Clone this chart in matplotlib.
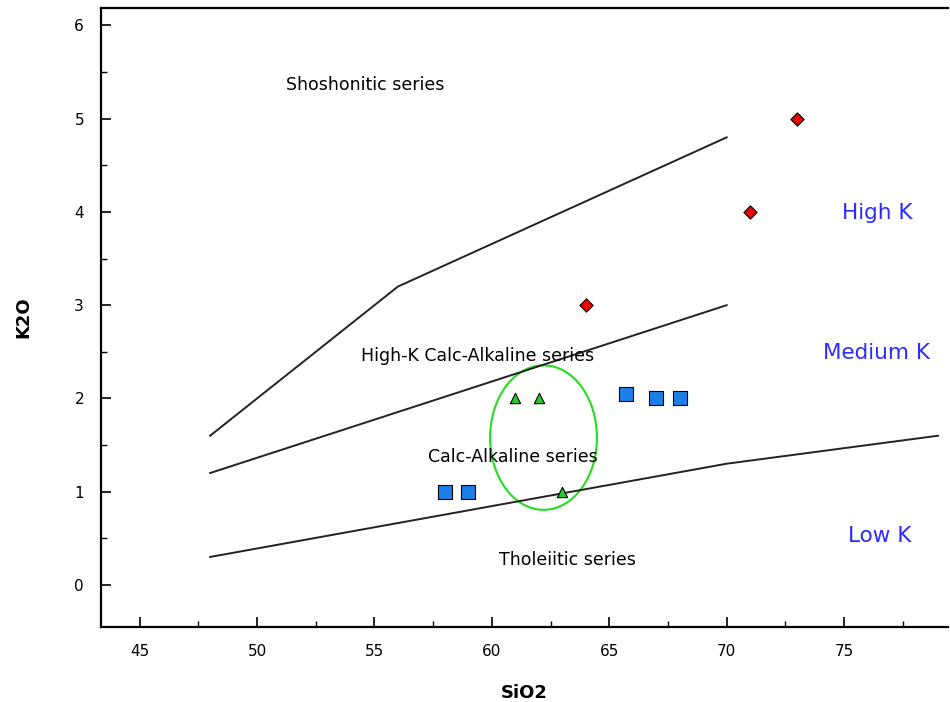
import matplotlib.pyplot as plt
from matplotlib.patches import Ellipse
from matplotlib.ticker import MultipleLocator

# boundary lines (SiO2, K2O)
shosh_x = [48, 56, 70]
shosh_y = [1.6, 3.2, 4.8]
highk_x = [48, 70]
highk_y = [1.2, 3.0]
lowk_x = [48, 70, 79]
lowk_y = [0.3, 1.3, 1.6]

# samples
red_x = [64, 71, 73]
red_y = [3.0, 4.0, 5.0]
blue_x = [58, 59, 65.7, 67, 68]
blue_y = [1.0, 1.0, 2.05, 2.0, 2.0]
green_x = [61, 62, 63]
green_y = [2.0, 2.0, 1.0]

fig = plt.figure(figsize=(9.5, 7.02), dpi=100)
ax = fig.add_axes([0.106, 0.107, 0.892, 0.882])

for xs, ys in [(shosh_x, shosh_y), (highk_x, highk_y), (lowk_x, lowk_y)]:
    ax.plot(xs, ys, color='#222222', lw=1.4)

ax.scatter(red_x, red_y, marker='D', s=45, color='#ee0000', edgecolor='black', linewidths=0.8, zorder=3)
ax.scatter(blue_x, blue_y, marker='s', s=90, color='#1a7fe8', edgecolor='black', linewidths=0.8, zorder=3)
ax.scatter(green_x, green_y, marker='^', s=55, color='#22cc22', edgecolor='black', linewidths=0.8, zorder=3)

ax.add_patch(Ellipse((62.2, 1.58), 4.55, 1.55, fill=False, edgecolor='#22dd22', lw=1.5))

ax.text(54.6, 5.36, 'Shoshonitic series', ha='center', va='center', fontsize=12.5)
ax.text(59.4, 2.45, 'High-K Calc-Alkaline series', ha='center', va='center', fontsize=12.5)
ax.text(60.9, 1.37, 'Calc-Alkaline series', ha='center', va='center', fontsize=12.5)
ax.text(63.2, 0.27, 'Tholeiitic series', ha='center', va='center', fontsize=12.5)
ax.text(76.4, 3.99, 'High K', ha='center', va='center', fontsize=15.5, color='#2b2bff')
ax.text(76.4, 2.49, 'Medium K', ha='center', va='center', fontsize=15.5, color='#2b2bff')
ax.text(76.5, 0.53, 'Low K', ha='center', va='center', fontsize=15.5, color='#2b2bff')

ax.set_xlim(43.34, 79.43)
ax.set_ylim(-0.45, 6.19)
ax.xaxis.set_major_locator(MultipleLocator(5))
ax.xaxis.set_minor_locator(MultipleLocator(2.5))
ax.yaxis.set_major_locator(MultipleLocator(1))
ax.yaxis.set_minor_locator(MultipleLocator(0.5))
ax.tick_params(which='both', direction='in', top=False, right=False, labelsize=11, pad=12)
ax.tick_params(which='major', length=7, width=1.2)
ax.tick_params(which='minor', length=4, width=1.0)
ax.spines['right'].set_visible(False)
for s in ['left', 'bottom', 'top']:
    ax.spines[s].set_linewidth(1.6)

ax.set_xlabel('SiO2', fontsize=13, fontweight='bold', labelpad=18)
ax.set_ylabel('K2O', fontsize=13, fontweight='bold', labelpad=30)

fig.savefig('out.png', dpi=100)
